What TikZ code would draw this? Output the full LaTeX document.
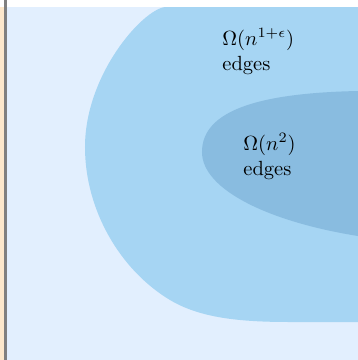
\documentclass[tikz,border=0pt]{standalone}
\usepackage{amsmath}
\definecolor{bgblue}{RGB}{226,239,254}
\definecolor{midblue}{RGB}{166,213,243}
\definecolor{deepblue}{RGB}{137,188,224}
\definecolor{stripor}{RGB}{253,232,204}
\definecolor{stripgray}{RGB}{128,128,128}
\tikzset{lbl/.style={anchor=base west,inner sep=0pt,font=\fontsize{10}{12}\selectfont}}
\begin{document}
\begin{tikzpicture}[x=0.4875pt,y=-0.4875pt]
\useasboundingbox (0,0) rectangle (358,360);
\fill[white] (0,0) rectangle (358,360);
\fill[stripor] (0,7) rectangle (4,360);
\fill[stripgray] (4,0) rectangle (7,360);
\fill[bgblue] (7,7) rectangle (358,360);
\fill[midblue] (165,7) .. controls (142,10) and (85,75) .. (85,147)
  .. controls (85,210) and (120,270) .. (170,300)
  .. controls (200,318) and (240,322) .. (290,322)
  -- (358,322) -- (358,7) -- cycle;
\fill[deepblue] (358,91) .. controls (260,93) and (202,110) .. (202,152)
  .. controls (202,190) and (270,222) .. (358,236) -- cycle;
\node[lbl] (t1) at (222,45) {$\Omega(n^{1+\epsilon})$};
\node[lbl] (t2) at (222,70) {edges};
\node[lbl] (t3) at (243,150) {$\Omega(n^{2})$};
\node[lbl] (t4) at (243,175) {edges};
\end{tikzpicture}
\end{document}
